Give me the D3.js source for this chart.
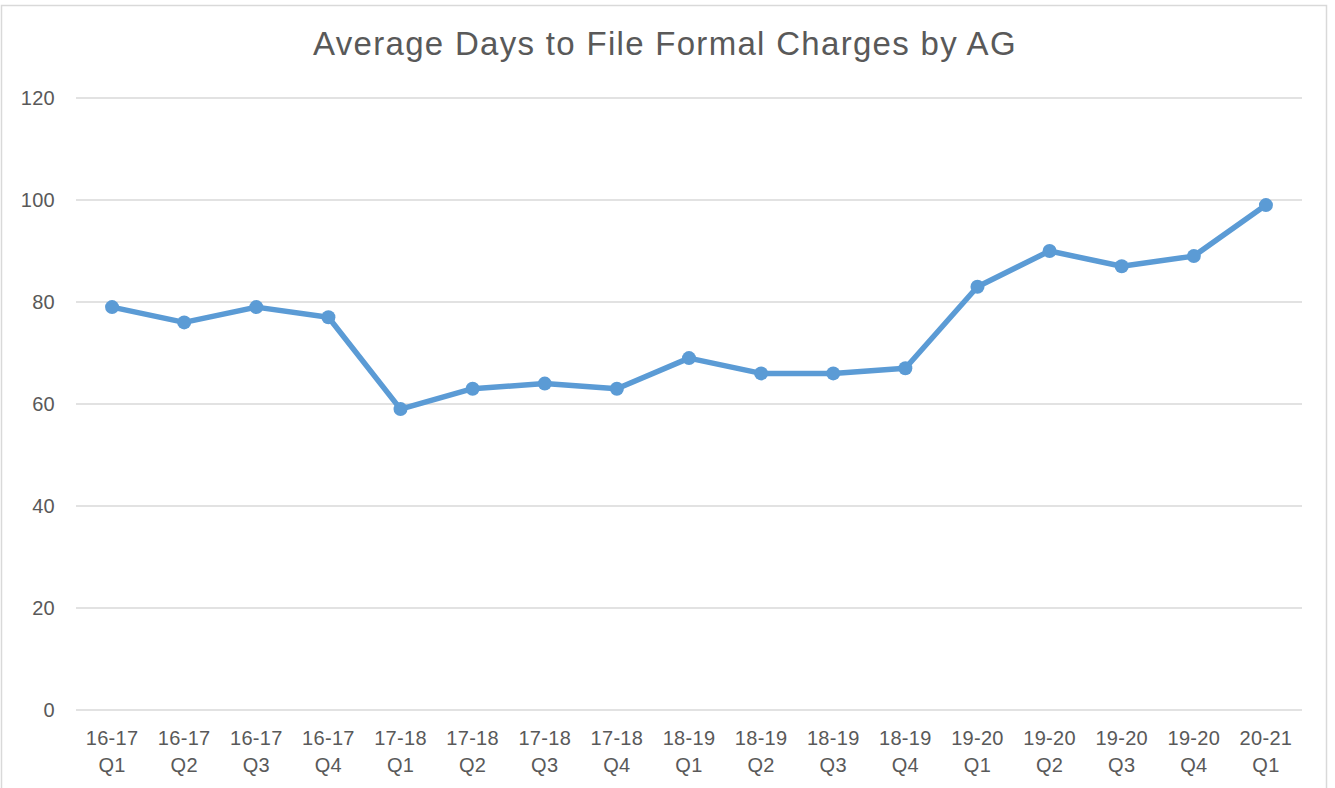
<!DOCTYPE html>
<html>
<head>
<meta charset="utf-8">
<script src="https://cdn.jsdelivr.net/npm/d3@7"></script>
<style>
  body { margin: 0; background: #fff; }
  svg { display: block; font-family: "Liberation Sans", Arial, sans-serif; }
</style>
</head>
<body>
<svg id="chart" width="1335" height="788"></svg>
<script>
const periods = ["16-17", "16-17", "16-17", "16-17", "17-18", "17-18", "17-18", "17-18",
  "18-19", "18-19", "18-19", "18-19", "19-20", "19-20", "19-20", "19-20", "20-21"];
const quarters = ["Q1", "Q2", "Q3", "Q4", "Q1", "Q2", "Q3", "Q4",
  "Q1", "Q2", "Q3", "Q4", "Q1", "Q2", "Q3", "Q4", "Q1"];
const avgDays = [79, 76, 79, 77, 59, 63, 64, 63, 69, 66, 66, 67, 83, 90, 87, 89, 99];
const yTicks = [0, 20, 40, 60, 80, 100, 120];

const svg = d3.select("#chart");
const width = 1335, height = 788;
const margin = { left: 76, right: 33, top: 98, bottom: 78 };

// chart border
svg.append("rect")
  .attr("x", 1.5).attr("y", 5.5)
  .attr("width", 1325).attr("height", 790)
  .attr("fill", "#fff")
  .attr("stroke", "#d9d9d9")
  .attr("stroke-width", 1.5);

svg.append("text")
  .attr("x", 665).attr("y", 55)
  .attr("text-anchor", "middle")
  .style("font-size", "33px")
  .style("letter-spacing", "1.3px")
  .style("fill", "#595959")
  .text("Average Days to File Formal Charges by AG");

const idx = d3.range(avgDays.length);
const x = d3.scaleBand().domain(idx).range([margin.left, width - margin.right]);
const y = d3.scaleLinear().domain([0, 120]).range([height - margin.bottom, margin.top]);

// gridlines
svg.append("g")
  .selectAll("line")
  .data(yTicks)
  .enter()
  .append("line")
  .attr("x1", margin.left).attr("x2", width - margin.right)
  .attr("y1", (d) => y(d)).attr("y2", (d) => y(d))
  .attr("stroke", "#d9d9d9")
  .attr("stroke-width", 1.3);

// y labels
svg.append("g")
  .selectAll("text")
  .data(yTicks)
  .enter()
  .append("text")
  .attr("x", 55)
  .attr("y", (d) => y(d))
  .attr("dy", "0.35em")
  .attr("text-anchor", "end")
  .style("font-size", "20px")
  .style("letter-spacing", "0.3px")
  .style("fill", "#595959")
  .text((d) => d);

// x labels
const xl = svg.append("g")
  .selectAll("text")
  .data(idx)
  .enter()
  .append("text")
  .attr("text-anchor", "middle")
  .attr("x", (d) => x(d) + x.bandwidth() / 2)
  .attr("y", 745)
  .style("font-size", "20px")
  .style("letter-spacing", "0.3px")
  .style("fill", "#595959");
xl.append("tspan").attr("x", (d) => x(d) + x.bandwidth() / 2).text((d) => periods[d]);
xl.append("tspan").attr("x", (d) => x(d) + x.bandwidth() / 2).attr("dy", 27).text((d) => quarters[d]);

const line = d3.line()
  .x((d, i) => x(i) + x.bandwidth() / 2)
  .y((d) => y(d));

svg.append("path")
  .datum(avgDays)
  .attr("d", line)
  .attr("fill", "none")
  .attr("stroke", "#5b9bd5")
  .attr("stroke-width", 5.5)
  .attr("stroke-linejoin", "round")
  .attr("stroke-linecap", "round");

svg.append("g")
  .selectAll("circle")
  .data(avgDays)
  .enter()
  .append("circle")
  .attr("cx", (d, i) => x(i) + x.bandwidth() / 2)
  .attr("cy", (d) => y(d))
  .attr("r", 7)
  .attr("fill", "#5b9bd5");
</script>
</body>
</html>
